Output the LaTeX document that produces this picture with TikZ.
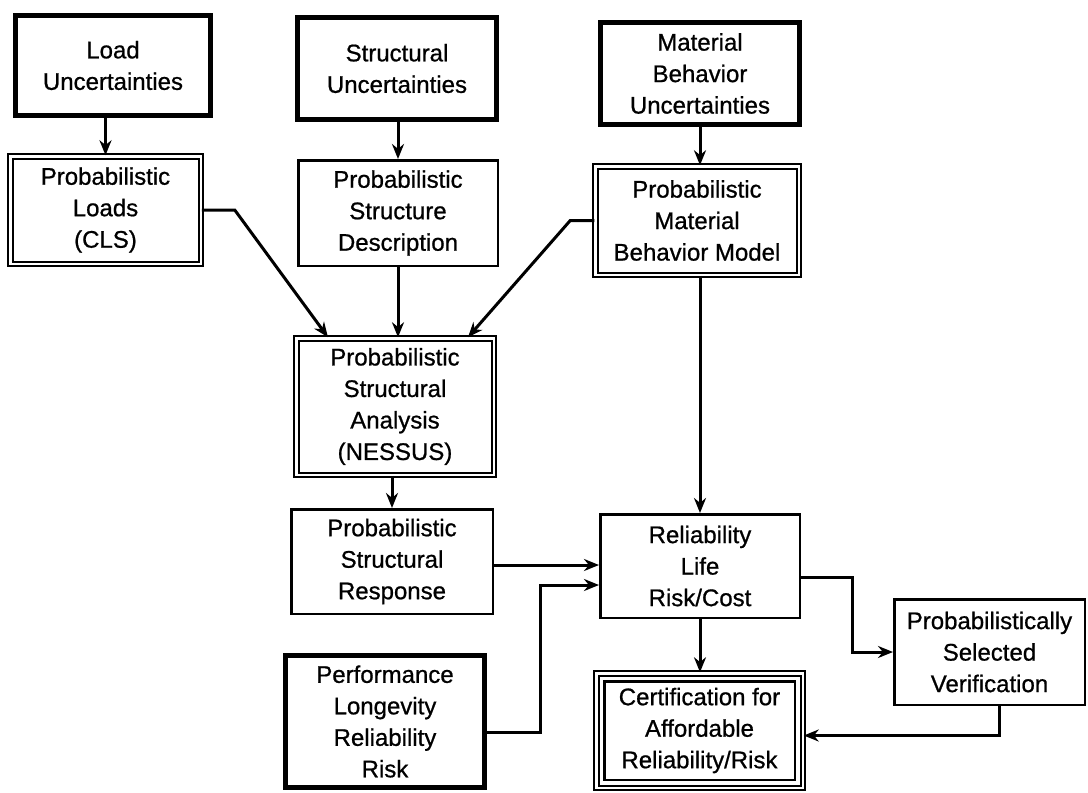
\documentclass[tikz,border=0pt]{standalone}
\usepackage{fontspec}
\setmainfont{Liberation Sans}[FakeBold=0.8]
\usetikzlibrary{arrows.meta}

\begin{document}
\begin{tikzpicture}[x=1pt,y=-1pt,
  every node/.style={align=center,inner sep=0pt,font=\fontsize{24}{31.5}\selectfont},
  box/.style={draw,line width=2.5pt},
  thickbox/.style={draw,line width=5pt},
  dblbox/.style={draw,double,line width=2pt,double distance=2.5pt},
  arr/.style={-{Stealth[length=15pt,width=12pt]},line width=3pt}]
            \useasboundingbox (0,0) rectangle (1088,793);
            \node[thickbox,minimum width=195pt,minimum height=100pt] (lu) at (113,65.5) {Load\\Uncertainties};
            \node[thickbox,minimum width=199pt,minimum height=102pt] (su) at (397,68.5) {Structural\\Uncertainties};
            \node[thickbox,minimum width=199pt,minimum height=102pt] (mu) at (700,73.5) {Material\\Behavior\\Uncertainties};
            \node[dblbox,minimum width=190.5pt,minimum height=107.5pt] (pl) at (105.5,210) {Probabilistic\\Loads\\(CLS)};
            \node[box,minimum width=199.5pt,minimum height=105.5pt] (sd) at (398,213) {Probabilistic\\Structure\\Description};
            \node[dblbox,minimum width=203.5pt,minimum height=108.5pt] (mm) at (697,220.5) {Probabilistic\\Material\\Behavior Model};
            \node[dblbox,minimum width=197.5pt,minimum height=136.5pt] (sa) at (395,406.5) {Probabilistic\\Structural\\Analysis\\(NESSUS)};
            \node[box,minimum width=201.5pt,minimum height=104.5pt] (sr) at (392,561.5) {Probabilistic\\Structural\\Response};
            \node[box,minimum width=199.5pt,minimum height=103.5pt] (rl) at (700,566) {Reliability\\Life\\Risk/Cost};
            \node[thickbox,minimum width=199pt,minimum height=132pt] (pf) at (385,721.5) {Performance\\Longevity\\Reliability\\Risk};
            \node[dblbox,minimum width=206.5pt,minimum height=114.5pt] (ce) at (699.5,730.5) {Certification for\\Affordable\\Reliability/Risk};
            \node[box,minimum width=190.5pt,minimum height=105.5pt] (sv) at (989.5,652) {Probabilistically\\Selected\\Verification};
              \draw[line width=2.5pt] ([shift={(9,9)}]ce.north west) rectangle ([shift={(-9,-9)}]ce.south east);
              \draw[arr] (pl.north |- lu.south) -- (pl.north);
              \draw[arr] (sd.north |- su.south) -- (sd.north);
              \draw[arr] (mu.south) -- (mu.south |- mm.north);
              \draw[arr] (pl.east) -- ++(33,0) -- ([xshift=-67pt]sa.north);
              \draw[arr] (sd.south) -- (sd.south |- sa.north);
              \draw[arr] (mm.west) -- ++(-24,0) -- ([xshift=73pt]sa.north);
              \draw[arr] (rl.north |- mm.south) -- (rl.north);
              \draw[arr] (sr.north |- sa.south) -- (sr.north);
              \draw[arr] ([yshift=-3.5pt]sr.east) -- ([yshift=-3.5pt]sr.east -| rl.west);
              \draw[arr] ([yshift=-11pt]pf.east) -- ++(53,0) |- ([yshift=-19pt]rl.west);
              \draw[arr] ([yshift=-11pt]rl.east) -- ++(51,0) |- (sv.west);
              \draw[arr] (rl.south) -- (rl.south |- ce.north);
              \draw[arr] ([xshift=10pt]sv.south) |- ([yshift=-5pt]ce.east);
            \end{tikzpicture}
\end{document}
